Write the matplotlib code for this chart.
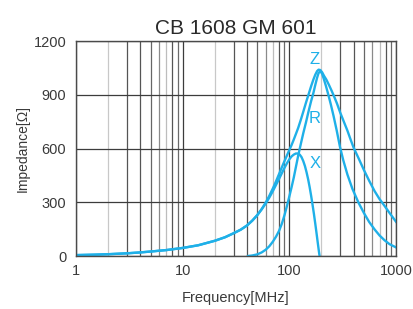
import matplotlib
matplotlib.use("Agg")
import matplotlib.pyplot as plt
from matplotlib.ticker import NullFormatter, LogLocator

plt.rcParams["font.family"] = ["Liberation Sans", "DejaVu Sans"]

# values (frequency in MHz, impedance in ohm)
z_freq = [1, 1.5, 2, 3, 4, 5, 7, 10, 14, 20, 25, 30, 35, 40, 45, 50, 55, 60,
          65, 70, 75, 80, 85, 90, 95, 100, 105, 110, 115, 121, 128, 135, 143,
          151, 160, 168, 175, 182, 188, 195, 203, 212, 222, 235, 250, 265,
          280, 300, 325, 350, 375, 400, 450, 500, 560, 630, 700, 780, 870,
          940, 1000]
z_ohm = [5, 7, 10, 15, 20, 25, 33, 45, 60, 85, 105, 127, 147, 170, 198, 228,
         262, 298, 337, 377, 417, 457, 495, 530, 562, 592, 620, 650, 680, 715,
         760, 805, 855, 900, 948, 985, 1012, 1032, 1040, 1038, 1025, 1004,
         985, 955, 920, 885, 850, 800, 748, 700, 650, 605, 540, 480, 420, 362,
         318, 280, 240, 213, 191]

r_freq = [41, 45, 50, 55, 60, 65, 70, 75, 80, 85, 90, 95, 100, 105, 110, 115,
          121, 128, 135, 143, 151, 160, 168, 175, 182, 188, 195, 202, 210,
          220, 232, 245, 260, 278, 298, 320, 350, 390, 443, 500, 560, 630,
          700, 780, 870, 1000]
r_ohm = [0, 3, 9, 20, 35, 55, 80, 108, 140, 180, 228, 280, 333, 385, 438,
         495, 560, 625, 685, 745, 805, 865, 910, 955, 995, 1022, 1030, 1020,
         990, 950, 900, 845, 780, 700, 610, 535, 455, 375, 300, 240, 190, 148,
         115, 88, 66, 48]

x_freq = [1, 2, 3, 4, 5, 7, 10, 14, 20, 25, 30, 35, 40, 45, 50, 55, 60, 65,
          70, 75, 80, 85, 90, 95, 100, 105, 110, 115, 120, 125, 130, 135, 140,
          145, 150, 155, 160, 165, 170, 175, 180, 185, 190, 192]
x_ohm = [5, 10, 15, 20, 25, 33, 45, 60, 85, 105, 127, 147, 170, 198, 228, 260,
         293, 327, 362, 397, 430, 462, 492, 518, 540, 556, 566, 572, 572, 566,
         552, 530, 502, 467, 428, 384, 336, 286, 234, 180, 125, 70, 18, 0]

y_ticks = [0, 300, 600, 900, 1200]
x_ticks = [1, 10, 100, 1000]

blue = "#1fb0e8"
text_col = "#3a3a3a"

fig = plt.figure(figsize=(4.14, 3.09), dpi=100)
ax = fig.add_axes([0.1836, 0.1715, 0.773, 0.6958])

ax.plot(z_freq, z_ohm, color=blue, lw=1.7)
ax.plot(r_freq, r_ohm, color=blue, lw=1.7)
ax.plot(x_freq, x_ohm, color=blue, lw=1.7)

ax.set_xscale("log")
ax.set_xlim(1, 1000)
ax.set_ylim(0, 1200)
ax.set_xticks(x_ticks)
ax.set_xticklabels([str(t) for t in x_ticks])
ax.set_yticks(y_ticks)
ax.xaxis.set_minor_locator(LogLocator(base=10, subs=range(2, 10)))
ax.xaxis.set_minor_formatter(NullFormatter())

ax.grid(which="major", color="#3c3c3c", lw=0.9)
ax.grid(which="minor", axis="x", color="#888888", lw=0.9)
# the minor lines in the scan come in mixed shades of gray
shades = ["#c8c8c8", "#555555", "#555555", "#666666",
          "#8a8a8a", "#bdbdbd", "#555555", "#6a6a6a"]
for i, tick in enumerate(ax.xaxis.get_minor_ticks()):
    tick.gridline.set_color(shades[i % len(shades)])

ax.tick_params(which="both", length=0, labelsize=10.5, labelcolor=text_col)
ax.tick_params(axis="y", pad=7)
ax.tick_params(axis="x", pad=6)
for s in ax.spines.values():
    s.set_color("#4a4a4a")
    s.set_linewidth(1.0)

ax.set_xlabel("Frequency[MHz]", fontsize=10.5, color=text_col, labelpad=9)
ax.set_ylabel("Impedance[\u03a9]", fontsize=10, color=text_col, labelpad=3)
ax.set_title("CB 1608 GM 601", fontsize=15, color="#2a2a2a", pad=5)

ax.text(174, 1094, "Z", color=blue, fontsize=12, ha="center", va="center")
ax.text(174, 770, "R", color=blue, fontsize=12, ha="center", va="center")
ax.text(174, 519, "X", color=blue, fontsize=12, ha="center", va="center")

fig.savefig("out.png", dpi=100)
